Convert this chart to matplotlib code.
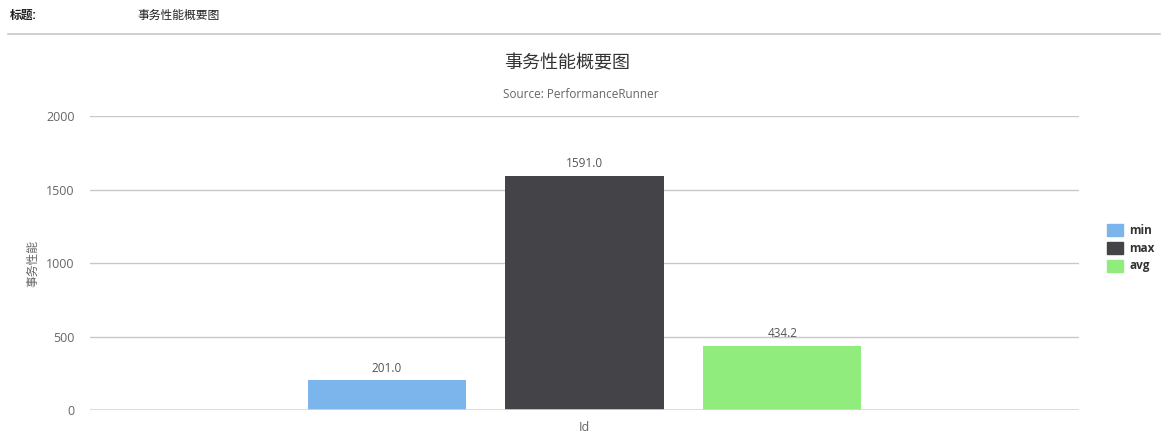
import matplotlib
matplotlib.use('Agg')
import matplotlib.pyplot as plt
from matplotlib.patches import Rectangle

plt.rcParams['font.family'] = ['Open Sans', 'Noto Sans CJK SC', 'DejaVu Sans']

series = ['min', 'max', 'avg']
values = [201.0, 1591.0, 434.2]
colors = ['#7cb5ec', '#434348', '#90ed7d']
offsets = [-0.2, 0.0, 0.2]
category = 'Id'
yticks = [0, 500, 1000, 1500, 2000]

W, H = 1161, 436
fig = plt.figure(figsize=(W / 100, H / 100), dpi=100)

# page header above the chart
fig.text(10 / W, 1 - 15 / H, '标题:', fontsize=8.5, fontweight='bold', va='center', color='#222222')
fig.text(137 / W, 1 - 15 / H, '事务性能概要图', fontsize=8.5, va='center', color='#222222')
fig.add_artist(plt.Line2D([8 / W, 1160 / W], [1 - 34 / H, 1 - 34 / H], color='#c8c8c8', lw=1.2))

ax = fig.add_axes([90 / W, 26 / H, (1079 - 90) / W, (410 - 116) / H])
for s, v, c, o in zip(series, values, colors, offsets):
    ax.bar(o, v, width=0.16, color=c, label=s, zorder=3)
    ax.text(o, v + 40, f'{v:.1f}', ha='center', va='bottom', fontsize=8.5, color='#555555')

ax.set_xlim(-0.5, 0.5)
ax.set_ylim(0, 2000)
ax.set_yticks(yticks)
ax.set_yticklabels([str(t) for t in yticks])
ax.set_xticks([0])
ax.set_xticklabels([category])
ax.tick_params(axis='both', length=0, labelsize=9, colors='#666666')
ax.tick_params(axis='y', pad=11)
ax.tick_params(axis='x', pad=8)
for sp in ax.spines.values():
    sp.set_visible(False)
for t in yticks[1:]:
    ax.axhline(t, color='#c8c8c8', lw=1, zorder=1)
ax.axhline(0, color='#ccd6eb', lw=1.2, zorder=4)
ax.set_ylabel('事务性能', fontsize=8.5, color='#666666', labelpad=5)

fig.text(567 / W, 1 - 63 / H, '事务性能概要图', fontsize=13, ha='center', va='center', color='#333333')
fig.text(581 / W, 1 - 94 / H, 'Source: PerformanceRunner', fontsize=8.5, ha='center', va='center', color='#666666')

# legend
for i, (s, c) in enumerate(zip(series, colors)):
    y = 230 + i * 18
    fig.add_artist(Rectangle((1107 / W, 1 - (y + 6) / H), 16 / W, 12 / H, color=c, transform=fig.transFigure))
    fig.text(1129 / W, 1 - y / H, s, fontsize=8.5, fontweight='bold', va='center', color='#333333')

fig.savefig('out.png', dpi=100)
